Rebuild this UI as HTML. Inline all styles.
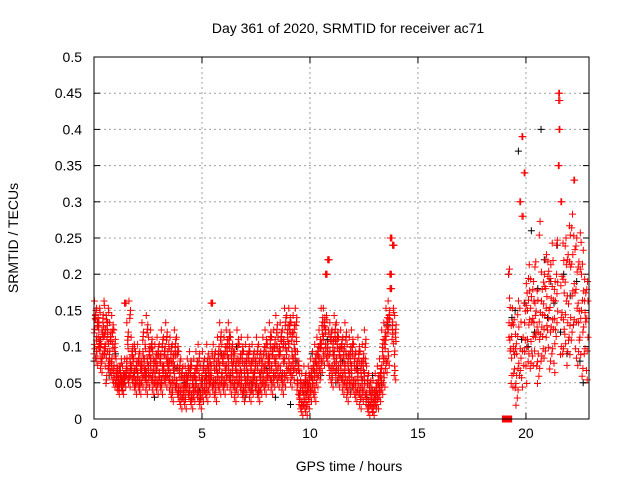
<!DOCTYPE html>
<html><head><meta charset="utf-8"><style>
body{margin:0;background:#fff}
svg{display:block;font-family:"Liberation Sans",sans-serif}
</style></head><body>
<svg id="chart" width="640" height="480" viewBox="0 0 640 480">
<text x="348" y="33" font-size="14" text-anchor="middle">Day 361 of 2020, SRMTID for receiver ac71</text>
<text x="349" y="471" font-size="14" text-anchor="middle">GPS time / hours</text>
<text x="18" y="238" font-size="14" text-anchor="middle" transform="rotate(-90 18 238)">SRMTID / TECUs</text>
<g id="grid"></g>
<g id="ticks"></g>
<g id="blk"></g>
<g id="red"></g>
<rect x="94" y="57" width="495" height="362" fill="none" stroke="#000" stroke-width="1"/>
</svg>
<script>
const xTicks=[0,5,10,15,20];
const yTicks=[0,0.05,0.1,0.15,0.2,0.25,0.3,0.35,0.4,0.45,0.5];
const yTickLabels=["0","0.05","0.1","0.15","0.2","0.25","0.3","0.35","0.4","0.45","0.5"];
const binStep=0.1;
const startA=0.0;
// hundredths of TECU, three samples per 0.1 h bin, 0.0 - 14.0 h
const binsA=[
[9,13,15],[8,12,14],[10,14,11],[7,11,9],[12,15,10],[9,13,6],[11,14,8],[7,10,12],[6,9,13],[5,8,11],
[5,6,7],[4,6,5],[5,7,6],[4,5,6],[5,16,7],[6,9,12],[5,7,15],[6,8,10],[5,9,7],[4,6,8],
[5,7,9],[4,6,8],[5,8,12],[6,9,7],[4,7,13],[5,8,10],[6,9,11],[4,7,8],[5,6,9],[4,8,10],
[5,7,9],[4,6,11],[6,8,10],[5,7,12],[6,9,8],[4,7,10],[3,6,9],[5,8,11],[4,6,10],[3,5,8],
[2,5,7],[3,4,6],[2,5,6],[4,6,7],[3,5,8],[2,4,6],[3,5,7],[4,6,8],[3,5,9],[2,4,6],
[3,6,8],[4,5,7],[3,6,9],[4,7,6],[5,8,16],[4,6,9],[3,6,8],[5,7,10],[4,8,12],[5,7,9],
[4,6,10],[5,8,11],[6,9,12],[4,7,10],[5,8,9],[3,6,8],[4,7,11],[5,6,9],[4,7,10],[3,5,8],
[4,6,9],[5,7,10],[3,6,8],[4,5,9],[5,7,8],[4,6,10],[3,5,9],[4,7,8],[5,6,10],[4,8,11],
[5,7,9],[6,9,12],[4,8,10],[5,7,11],[6,9,13],[5,8,10],[6,10,12],[4,7,11],[5,9,14],[6,10,13],
[7,11,14],[5,8,12],[6,9,13],[7,10,14],[4,6,8],[2,4,5],[1,3,5],[2,3,6],[1,4,5],[2,5,6],
[3,5,7],[4,6,8],[3,7,9],[5,8,10],[6,9,11],[7,11,14],[8,12,14],[9,13,20],[8,11,22],[6,10,12],
[5,8,11],[7,10,13],[6,9,12],[5,8,10],[6,9,11],[4,7,10],[5,8,12],[3,6,9],[4,7,10],[5,8,11],
[4,6,9],[3,6,8],[4,7,10],[2,5,8],[3,6,9],[4,7,11],[2,4,6],[1,3,5],[2,3,4],[1,2,4],
[2,3,5],[2,4,6],[3,5,7],[4,8,11],[5,9,12],[7,12,14],[8,13,15],[20,18,25],[11,14,24],[6,10,13]
];
const startB=19.2;
// hundredths of TECU, four samples per 0.1 h bin, 19.2 - 22.9 h
const binsB=[
[20,16,10,12],[9,12,14,6],[5,8,10,13],[3,6,9,11],[4,7,12,15],[6,9,14,30],[5,10,28,39],[8,12,16,34],[6,11,15,18],[9,13,17,20],
[7,10,14,18],[8,12,15,19],[10,13,16,21],[6,9,12,17],[7,11,14,26],[8,12,15,19],[9,13,17,20],[10,14,18,22],[11,15,19,21],[8,12,16,20],
[9,13,17,23],[7,11,15,19],[12,16,20,24],[35,40,44,45],[10,14,19,30],[9,13,18,23],[11,15,20,25],[8,12,17,22],[10,14,21,26],[12,17,22,27],
[13,18,24,33],[9,14,19,25],[8,12,16,21],[10,15,20,25],[7,12,17,22],[9,14,18,15],[6,10,15,19]
];
const zeroTimes=[19.05,19.2];
const blackA=[[8,11],[6,9],[5,7],[4,6],[3,5],[4,7],[5,8],[4,6],[5,9],[6,10],[3,5],[4,7],[3,6],[2,8],[5,9],[6,11],[5,8],[4,7],[3,6],[5,13]];
const blackB=[[20,14],[15,37],[11,16],[10,26],[12,18],[40,22],[14,19],[16,24],[12,20],[9,17],[13,19],[8,5]];

const X0=94,X1=589,Y0=419,Y1=57,XMAX=22.92,YMAX=0.5;
const sx=v=>X0+(v/XMAX)*(X1-X0);
const sy=v=>Y0-(v/YMAX)*(Y0-Y1);
const NS="http://www.w3.org/2000/svg";
const grid=document.getElementById('grid'),ticks=document.getElementById('ticks');
function mk(tag,at,par){const e=document.createElementNS(NS,tag);for(const k in at)e.setAttribute(k,at[k]);par.appendChild(e);return e;}
xTicks.forEach(v=>{const x=sx(v);
 if(v>0){const g=mk('line',{x1:x,y1:Y0,x2:x,y2:Y1,stroke:'#a0a0a0','stroke-dasharray':'2,3'},grid);
 
 }
 const t=mk('text',{x:x,y:Y0+19,'font-size':'14','text-anchor':'middle'},ticks);t.textContent=String(v);
 
 
 mk('line',{x1:x,y1:Y0,x2:x,y2:Y0-6,stroke:'#000'},ticks);mk('line',{x1:x,y1:Y1,x2:x,y2:Y1+6,stroke:'#000'},ticks);});
yTicks.forEach((v,i)=>{const y=sy(v);
 if(i>0&&i<yTicks.length-1){const g=mk('line',{x1:X0,y1:y,x2:X1,y2:y,stroke:'#a0a0a0','stroke-dasharray':'2,3'},grid);
 
 }
 const t=mk('text',{x:X0-12,y:y+5,'font-size':'14','text-anchor':'end'},ticks);t.textContent=yTickLabels[i];
 
 
 mk('line',{x1:X0,y1:y,x2:X0+6,y2:y,stroke:'#000'},ticks);mk('line',{x1:X1,y1:y,x2:X1-6,y2:y,stroke:'#000'},ticks);});
function plus(par,t,v,col){const x=sx(t),y=sy(v);
 const p=mk('path',{d:`M${x-3.5} ${y}h7M${x} ${y-3.5}v7`,stroke:col,'stroke-width':'1',fill:'none'},par);
 
 }
// fixed scatter pattern used to spread each sample into a small cluster
const spreadT=[0,0.037,0.071,0.018,0.055];
const spreadV=[0,0.007,-0.006,0.013,-0.011];
const blk=document.getElementById('blk'),red=document.getElementById('red');
blackA.forEach((b,i)=>b.forEach((v,j)=>plus(blk,startA+i*0.7+j*0.3,v/100,'#000')));
blackB.forEach((b,i)=>b.forEach((v,j)=>plus(blk,startB+i*0.3+j*0.15,v/100,'#000')));
binsA.forEach((b,i)=>b.forEach((v,j)=>{
 for(let k=0;k<4;k++){const dv=(v>=16)?0:spreadV[(k+j)%5];
  plus(red,startA+i*binStep+spreadT[(k+2*j)%5]+j*0.01,Math.max(0.005,v/100+dv),'#f00');}
}));
binsB.forEach((b,i)=>b.forEach((v,j)=>{
 for(let k=0;k<2;k++){const dv=(v>=28)?0:spreadV[(k+j+i)%5];
  plus(red,startB+i*binStep+spreadT[(k+j)%5],v/100+dv,'#f00');}
}));
zeroTimes.forEach(t=>{const r=mk('rect',{x:sx(t)-3.5,y:Y0-3.5,width:7,height:7,fill:'#f00'},red);
 
 });
</script>
</body></html>
